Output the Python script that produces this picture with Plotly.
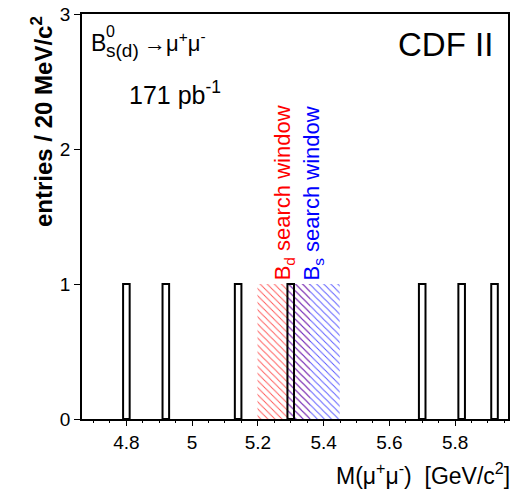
import plotly.graph_objects as go

# Histogram bins (GeV/c^2) with one entry each
bin_centers = [4.80, 4.92, 5.14, 5.30, 5.70, 5.82, 5.92]
counts = [1, 1, 1, 1, 1, 1, 1]
bin_width = 0.02

# Search windows
bd_window = [5.199, 5.359]
bs_window = [5.289, 5.449]
bd_mass = 5.279
bs_mass = 5.369

FONT = "Liberation Sans"

fig = go.Figure()

# Bd window (red hatch)
fig.add_trace(go.Bar(
    x=[(bd_window[0] + bd_window[1]) / 2], y=[1], width=[bd_window[1] - bd_window[0]],
    marker=dict(color="rgba(0,0,0,0)", line=dict(width=0),
                pattern=dict(shape="\\", fgcolor="rgba(255,40,40,0.8)", bgcolor="rgba(0,0,0,0)",
                             size=5, solidity=0.18, fillmode="replace")),
    showlegend=False, hoverinfo="skip"))
# Bs window (blue hatch)
fig.add_trace(go.Bar(
    x=[(bs_window[0] + bs_window[1]) / 2], y=[1], width=[bs_window[1] - bs_window[0]],
    marker=dict(color="rgba(0,0,0,0)", line=dict(width=0),
                pattern=dict(shape="\\", fgcolor="rgba(40,40,255,0.8)", bgcolor="rgba(0,0,0,0)",
                             size=5, solidity=0.18, fillmode="replace")),
    showlegend=False, hoverinfo="skip"))
# Histogram
fig.add_trace(go.Bar(
    x=bin_centers, y=counts, width=[bin_width] * len(bin_centers),
    marker=dict(color="rgba(255,255,255,0)", line=dict(color="black", width=2)),
    showlegend=False))

fig.update_layout(
    width=514, height=489,
    margin=dict(l=82, r=4, t=13, b=70),
    paper_bgcolor="white", plot_bgcolor="white",
    barmode="overlay",
    font=dict(family=FONT, color="black", size=17),
    xaxis=dict(range=[4.665, 5.961], tick0=0, dtick=0.2, ticks="outside", ticklen=5,
               tickwidth=1.3, tickcolor="black",
               minor=dict(dtick=0.05, ticks="outside", ticklen=2.5, tickcolor="black"),
               showline=True, mirror=True, linecolor="black", linewidth=1.5,
               showgrid=False, zeroline=False, tickfont=dict(size=19)),
    yaxis=dict(range=[0, 3], tick0=0, dtick=1, ticks="outside", ticklen=6,
               tickwidth=1.3, tickcolor="black",
               showline=True, mirror=True, linecolor="black", linewidth=1.5,
               showgrid=False, zeroline=False, tickfont=dict(size=19)),
)

ann = []
# Y title
ann.append(dict(text="<b>entries / 20 MeV/c<sup>2</sup></b>", xref="paper", yref="paper",
                x=-0.095, y=1.0, xanchor="center", yanchor="top", textangle=-90,
                showarrow=False, font=dict(size=24)))
# X title
ann.append(dict(text="M(μ<sup>+</sup>μ<sup>-</sup>)  [GeV/c<sup>2</sup>]", xref="paper", yref="paper",
                x=1.01, y=-0.095, xanchor="right", yanchor="top",
                showarrow=False, font=dict(size=23)))
# CDF II
ann.append(dict(text="CDF II", xref="paper", yref="paper", x=0.853, y=0.975,
                xanchor="center", yanchor="top", showarrow=False, font=dict(size=33)))
# B0 s(d) -> mu mu
ann.append(dict(text="B", xref="paper", yref="paper", x=0.016, y=0.965,
                xanchor="left", yanchor="top", showarrow=False, font=dict(size=23)))
ann.append(dict(text="0", xref="paper", yref="paper", x=0.052, y=0.982,
                xanchor="left", yanchor="top", showarrow=False, font=dict(size=16)))
ann.append(dict(text="s(d)", xref="paper", yref="paper", x=0.052, y=0.94,
                xanchor="left", yanchor="top", showarrow=False, font=dict(size=19)))
ann.append(dict(text="→μ<sup>+</sup>μ<sup>-</sup>", xref="paper", yref="paper", x=0.14, y=0.97,
                xanchor="left", yanchor="top", showarrow=False, font=dict(size=22)))
# luminosity
ann.append(dict(text="171 pb<sup>-1</sup>", xref="paper", yref="paper", x=0.105, y=0.85,
                xanchor="left", yanchor="top", showarrow=False, font=dict(size=25)))
# window labels
ann.append(dict(text="B<sub>d</sub> search window", x=bd_mass, y=1, xref="x", yref="y",
                xanchor="center", yanchor="bottom", yshift=2, textangle=-90,
                showarrow=False, font=dict(size=22, color="red")))
ann.append(dict(text="B<sub>s</sub> search window", x=bs_mass, y=1, xref="x", yref="y",
                xanchor="center", yanchor="bottom", yshift=2, textangle=-90,
                showarrow=False, font=dict(size=22, color="blue")))
fig.update_layout(annotations=ann)

fig.write_html("out.html")
